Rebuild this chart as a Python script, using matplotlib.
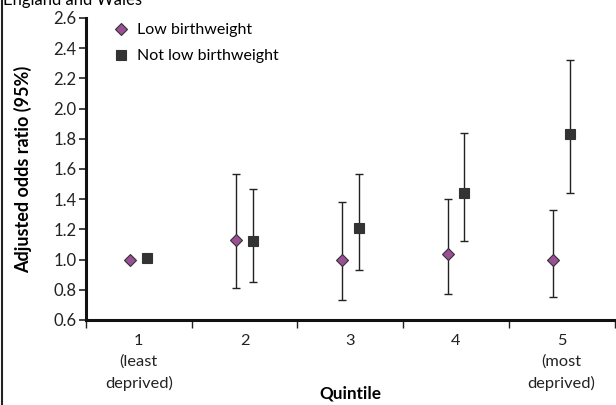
import numpy as np
import matplotlib.pyplot as plt
from matplotlib.lines import Line2D

plt.rcParams['font.family'] = ['Lato', 'DejaVu Sans']

# quintile data
quintiles = [1, 2, 3, 4, 5]
quintile_labels = ['1\n(least\ndeprived)', '2', '3', '4', '5\n(most\ndeprived)']

low_or = [1.00, 1.13, 1.00, 1.04, 1.00]
low_lo = [1.00, 0.81, 0.73, 0.77, 0.75]
low_hi = [1.00, 1.57, 1.38, 1.40, 1.33]

not_low_or = [1.01, 1.12, 1.21, 1.44, 1.83]
not_low_lo = [1.01, 0.85, 0.93, 1.12, 1.44]
not_low_hi = [1.01, 1.47, 1.57, 1.84, 2.32]

yticks = [0.6, 0.8, 1.0, 1.2, 1.4, 1.6, 1.8, 2.0, 2.2, 2.4, 2.6]


def main():
    fig = plt.figure(figsize=(6.16, 4.05), dpi=100)
    ax = fig.add_axes([0.1396, 0.2099, 0.858, 0.7457])

    x = np.array(quintiles, dtype=float)
    off = 0.08

    # error bars (skip quintile 1, the reference category)
    for xs, v, lo, hi, mk, fc, ms, lab in [
        (x - off, low_or, low_lo, low_hi, 'D', '#9b4f96', 6.5, 'Low birthweight'),
        (x + off, not_low_or, not_low_lo, not_low_hi, 's', '#333333', 7.5, 'Not low birthweight'),
    ]:
        v = np.array(v)
        yerr = np.vstack([v - np.array(lo), np.array(hi) - v])
        ax.errorbar(xs[1:], v[1:], yerr=yerr[:, 1:], fmt='none', ecolor='#222222',
                    elinewidth=1.0, capsize=3, capthick=1.0, zorder=2)
        ax.plot(xs, v, linestyle='none', marker=mk, markersize=ms, markerfacecolor=fc,
                markeredgecolor='#333333', markeredgewidth=0.8, label=lab, zorder=3)

    ax.set_xlim(0.5, 5.5)
    ax.set_ylim(0.6, 2.6)
    ax.set_yticks(yticks)
    ax.set_yticklabels([f"{t:.1f}" for t in yticks])
    ax.set_xticks(np.arange(0.5, 6.0, 1.0))
    ax.set_xticklabels([])
    ax.set_xticks(quintiles, minor=True)
    ax.set_xticklabels(quintile_labels, minor=True, linespacing=1.6)

    ax.tick_params(axis='y', direction='out', length=5, width=1.2, labelsize=12, pad=2,
                   colors='#222222')
    ax.tick_params(axis='x', which='major', direction='out', length=6, width=1.0, colors='#222222')
    ax.tick_params(axis='x', which='minor', length=0, labelsize=11.8, pad=10, labelcolor='#222222')

    for side in ('top', 'right'):
        ax.spines[side].set_visible(False)
    ax.spines['left'].set_linewidth(2.2)
    ax.spines['bottom'].set_linewidth(2.2)
    ax.spines['left'].set_color('#111111')
    ax.spines['bottom'].set_color('#111111')

    ax.set_ylabel('Adjusted odds ratio (95%)', fontweight='bold', fontsize=13, labelpad=15)
    ax.set_xlabel('Quintile', fontweight='bold', fontsize=12.3, labelpad=-4)

    ax.legend(loc='upper left', frameon=False, fontsize=11.5, handlelength=1.2,
              handletextpad=0.4, borderaxespad=0.3, labelspacing=0.75,
              bbox_to_anchor=(0.027, 1.02))

    # cut-off caption at the very top and the left frame line
    fig.text(0.005, 1.0, 'England and Wales', fontsize=12, va='center', ha='left')
    fig.add_artist(Line2D([0.004, 0.004], [0, 1], transform=fig.transFigure,
                          color='#222222', linewidth=1.5))

    fig.savefig('out.png', dpi=100)


if __name__ == "__main__":
    main()
